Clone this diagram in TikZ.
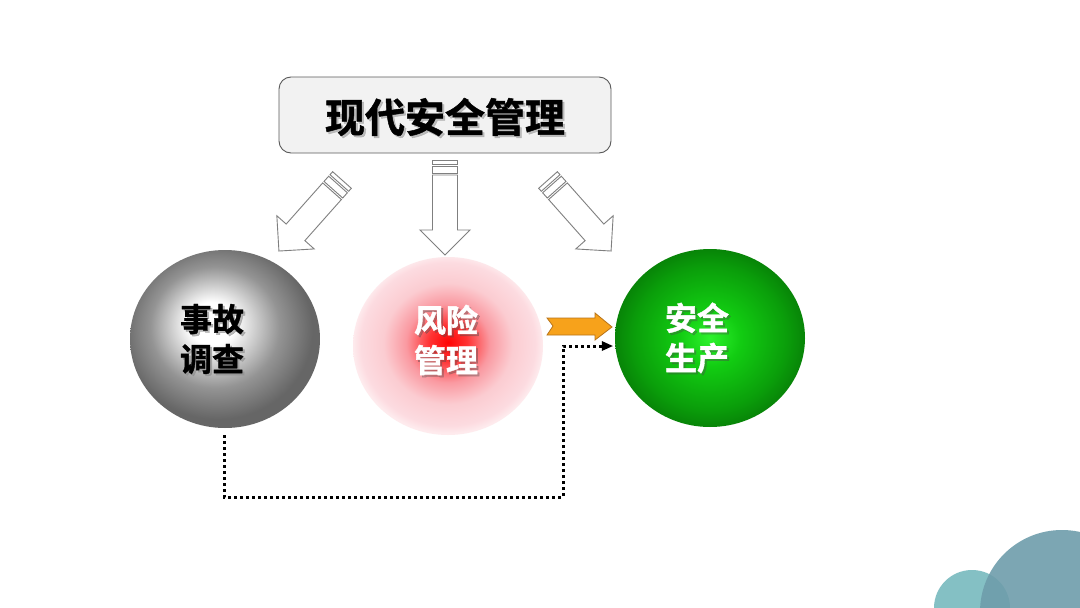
\documentclass[tikz,border=0pt]{standalone}
\usepackage{fontspec}
\newfontfamily\cjk{Noto Sans CJK SC}[BoldFont={Noto Sans CJK SC Bold}, BoldFeatures={FakeBold=1.2}]
\usetikzlibrary{shapes.geometric}
\definecolor{boxfill}{HTML}{F2F2F2}
\definecolor{boxline}{HTML}{595959}
\definecolor{arrline}{HTML}{7F7F7F}
\definecolor{orangefill}{HTML}{F7A21B}
\definecolor{orangeline}{HTML}{B8741A}
\definecolor{tealbig}{HTML}{6E9DAB}
\definecolor{tealsmall}{HTML}{84C0C4}
\pgfdeclareradialshading{grayball}{\pgfpoint{-4bp}{5bp}}{%
  color(0bp)=(white); color(6bp)=(white); color(17bp)=(black!42); color(25bp)=(black!60); color(50bp)=(black!60)}
\pgfdeclareradialshading{redball}{\pgfpoint{0bp}{1bp}}{%
  rgb(0bp)=(1,0.02,0.02); rgb(5bp)=(1,0.2,0.2); rgb(11bp)=(0.98,0.6,0.63); rgb(17bp)=(0.985,0.8,0.82); rgb(23bp)=(0.99,0.86,0.88); rgb(25bp)=(0.995,0.92,0.93); rgb(50bp)=(1,1,1)}
\pgfdeclareradialshading{greenball}{\pgfpoint{0bp}{0bp}}{%
  rgb(0bp)=(0.18,0.95,0.18); rgb(8bp)=(0.07,0.8,0.07); rgb(20bp)=(0.04,0.62,0.04); rgb(25bp)=(0.03,0.52,0.03); rgb(50bp)=(0.03,0.52,0.03)}
\tikzset{
  titlebox/.style={draw=boxline, line width=0.9pt, fill=boxfill, rounded corners=12pt, minimum width=332pt, minimum height=76pt, inner sep=0pt},
  ball/.style={ellipse, minimum width=190pt, minimum height=178pt, inner sep=0pt},
  balltext/.style={font=\cjk\bfseries\fontsize{32}{40}\selectfont, align=center, inner sep=0pt},
  titletext/.style={font=\cjk\bfseries\fontsize{40}{48}\selectfont, inner sep=0pt},
  hollow/.style={draw=arrline, line width=0.9pt, fill=white, line join=miter},
  dotline/.style={line width=3pt, dash pattern=on 3pt off 3pt, black},
}
\begin{document}
\begin{tikzpicture}[x=1pt, y=-1pt]
\useasboundingbox[fill=white] (0,0) rectangle (1080,608);
% decorative circles
\begin{scope}
\clip (0,0) rectangle (1080,608);
\fill[tealsmall] (972,608) circle (38);
\fill[tealbig, opacity=0.9] (1062,612) circle (82);
\end{scope}
% title
\node[titlebox] (title) at (445,115) {};
\node[titletext, text=black!35, opacity=0.7] at (447,119) {现代安全管理};
\node[titletext] (titletxt) at (445,117) {现代安全管理};
% hollow arrows
\foreach \px/\py/\ang in {445/160/0, 342/180/-41.6, 548/180/41.6}{
  \begin{scope}[shift={(\px,\py)}, rotate=\ang]
    \draw[hollow] (-12.5,0) rectangle (12.5,4);
    \draw[hollow] (-12.5,6) rectangle (12.5,13);
    \draw[hollow] (-12.5,15) -- (12.5,15) -- (12.5,70) -- (25,70) -- (0,95) -- (-25,70) -- (-12.5,70) -- cycle;
  \end{scope}
}
% balls
\node[ball, shading=grayball] (acc) at (225,339) {};
\node[ball, shading=redball] (risk) at (448,346) {};
\node[ball, shading=greenball] (safe) at (710,338) {};
% ball texts
\node[balltext, text=black!45, opacity=0.6] at (214,341) {事故\\调查};
\node[balltext] (acctxt) at (212,339) {事故\\调查};
\node[balltext, text=black!70, opacity=0.35] at (448,342) {风险\\管理};
\node[balltext, text=white] (risktxt) at (446,340) {风险\\管理};
\node[balltext, text=black!70, opacity=0.35] at (699,340) {安全\\生产};
\node[balltext, text=white] (safetxt) at (697,338) {安全\\生产};
% orange arrow
\coordinate (oa) at (547,318);
\draw[fill=orangefill, draw=orangeline, line width=0.8pt, line join=miter]
  (oa) -- ++(48,0) -- ++(0,-5) -- ++(17,14) -- ++(-17,13) -- ++(0,-5) -- ++(-48,0) -- ++(6,-9) -- cycle;
% dotted connector
\coordinate (d1) at (224,435);
\coordinate (d2) at (224,497);
\coordinate (d3) at (563,497);
\coordinate (d4) at (563,346);
\coordinate (d5) at (safe.west |- d4);
\draw[dotline] (d1) -- (d2) -- (d3) -- (d4) -- ([xshift=-10pt]d5);
\fill[black] ([xshift=-2pt]d5) -- ++(-11,-5) -- ++(0,10) -- cycle;
\end{tikzpicture}
\end{document}
